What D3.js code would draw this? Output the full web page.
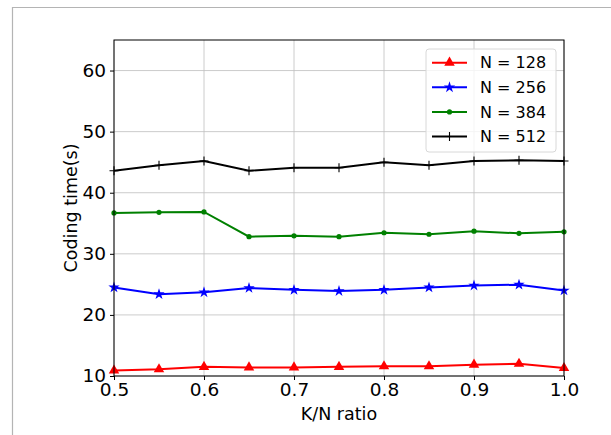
<!DOCTYPE html>
<html>
<head>
<meta charset="utf-8">
<script src="https://cdn.jsdelivr.net/npm/d3@7"></script>
<style>
  html, body { margin: 0; padding: 0; background: #fff; }
  svg { display: block; font-family: "DejaVu Sans", sans-serif; }
</style>
</head>
<body>
<div id="chart"></div>
<script>
// ---- Data ----
const ratios = [0.5, 0.55, 0.6, 0.65, 0.7, 0.75, 0.8, 0.85, 0.9, 0.95, 1.0];
const timeN128 = [10.9, 11.1, 11.5, 11.4, 11.4, 11.5, 11.6, 11.6, 11.85, 12.0, 11.3];
const timeN256 = [24.5, 23.4, 23.7, 24.4, 24.1, 23.9, 24.1, 24.5, 24.8, 24.95, 24.0];
const timeN384 = [36.7, 36.8, 36.85, 32.8, 32.95, 32.8, 33.45, 33.2, 33.7, 33.35, 33.6];
const timeN512 = [43.6, 44.5, 45.2, 43.6, 44.1, 44.1, 45.0, 44.5, 45.2, 45.3, 45.2];
const xTicks = [0.5, 0.6, 0.7, 0.8, 0.9, 1.0];
const yTicks = [10, 20, 30, 40, 50, 60];

const series = [
  { label: 'N = 128', values: timeN128, color: '#ff0000', marker: 'triangle' },
  { label: 'N = 256', values: timeN256, color: '#0000ff', marker: 'star' },
  { label: 'N = 384', values: timeN384, color: '#008000', marker: 'dot' },
  { label: 'N = 512', values: timeN512, color: '#000000', marker: 'plus' },
];

// ---- Layout ----
const width = 611, height = 435;
const plot = { left: 114, top: 40, right: 564, bottom: 376 };

const svg = d3.select('#chart').append('svg')
  .attr('width', width)
  .attr('height', height);

// outer frame of the screenshot
svg.append('path')
  .attr('d', `M12.5,${height} V7.5 H${width}`)
  .attr('fill', 'none')
  .attr('stroke', '#b4b4b4')
  .attr('stroke-width', 1.2);

const x = d3.scaleLinear().domain([0.5, 1.0]).range([plot.left, plot.right]);
const y = d3.scaleLinear().domain([10, 65]).range([plot.bottom, plot.top]);

// ---- Grid ----
const grid = svg.append('g').attr('stroke', '#b0b0b0').attr('stroke-width', 0.8).attr('opacity', 0.8);
grid.selectAll('.gx').data(xTicks).join('line')
  .attr('x1', d => x(d)).attr('x2', d => x(d))
  .attr('y1', plot.top).attr('y2', plot.bottom);
grid.selectAll('.gy').data(yTicks).join('line')
  .attr('x1', plot.left).attr('x2', plot.right)
  .attr('y1', d => y(d)).attr('y2', d => y(d));

// ---- Axes ----
const xAxis = svg.append('g')
  .attr('transform', `translate(0,${plot.bottom})`)
  .call(d3.axisBottom(x).tickValues(xTicks).tickFormat(d3.format('.1f')).tickSize(4).tickSizeOuter(0).tickPadding(3));
const yAxis = svg.append('g')
  .attr('transform', `translate(${plot.left},0)`)
  .call(d3.axisLeft(y).tickValues(yTicks).tickSize(4).tickSizeOuter(0).tickPadding(4));
[xAxis, yAxis].forEach(a => {
  a.select('.domain').remove();
  a.selectAll('text').attr('font-size', '18.5px').attr('fill', '#000')
    .attr('font-family', '"DejaVu Sans", sans-serif');
  a.selectAll('line').attr('stroke', '#000').attr('stroke-width', 1);
});

// ---- Lines & markers ----
const line = d3.line().x((d, i) => x(ratios[i])).y(d => y(d));

function drawMarker(g, type, color, cx, cy) {
  if (type === 'triangle') {
    g.append('path')
      .attr('d', d3.symbol(d3.symbolTriangle, 48)())
      .attr('transform', `translate(${cx},${cy})`)
      .attr('fill', color);
  } else if (type === 'star') {
    g.append('path')
      .attr('d', d3.symbol(d3.symbolStar, 40)())
      .attr('transform', `translate(${cx},${cy})`)
      .attr('fill', color);
  } else if (type === 'dot') {
    g.append('circle').attr('cx', cx).attr('cy', cy).attr('r', 2.6).attr('fill', color);
  } else if (type === 'plus') {
    g.append('path')
      .attr('d', `M${cx - 4.5},${cy}H${cx + 4.5}M${cx},${cy - 4.5}V${cy + 4.5}`)
      .attr('stroke', color).attr('stroke-width', 1.1);
  }
}

const plotG = svg.append('g');
series.forEach(s => {
  plotG.append('path')
    .datum(s.values)
    .attr('d', line)
    .attr('fill', 'none')
    .attr('stroke', s.color)
    .attr('stroke-width', 2);
  s.values.forEach((v, i) => drawMarker(plotG, s.marker, s.color, x(ratios[i]), y(v)));
});

// ---- Spines ----
svg.append('rect')
  .attr('x', plot.left).attr('y', plot.top)
  .attr('width', plot.right - plot.left).attr('height', plot.bottom - plot.top)
  .attr('fill', 'none').attr('stroke', '#000').attr('stroke-width', 1);

// ---- Axis labels ----
svg.append('text')
  .attr('x', (plot.left + plot.right) / 2).attr('y', 420)
  .attr('text-anchor', 'middle')
  .attr('font-size', '17.5px')
  .text('K/N ratio');
svg.append('text')
  .attr('transform', `translate(77,${(plot.top + plot.bottom) / 2}) rotate(-90)`)
  .attr('text-anchor', 'middle')
  .attr('font-size', '17.5px')
  .text('Coding time(s)');

// ---- Legend ----
const legend = svg.append('g');
legend.append('rect')
  .attr('x', 426).attr('y', 49).attr('width', 130).attr('height', 103)
  .attr('rx', 3)
  .attr('fill', '#fff').attr('fill-opacity', 0.8)
  .attr('stroke', '#d8d8d8').attr('stroke-width', 1);
series.forEach((s, i) => {
  const ly = 62.7 + i * 24.6;
  legend.append('line')
    .attr('x1', 432).attr('x2', 467).attr('y1', ly).attr('y2', ly)
    .attr('stroke', s.color).attr('stroke-width', 2);
  drawMarker(legend, s.marker, s.color, 449.5, ly);
  legend.append('text')
    .attr('x', 480).attr('y', ly).attr('dy', '0.36em')
    .attr('font-size', '16px')
    .text(s.label);
});
</script>
</body>
</html>
